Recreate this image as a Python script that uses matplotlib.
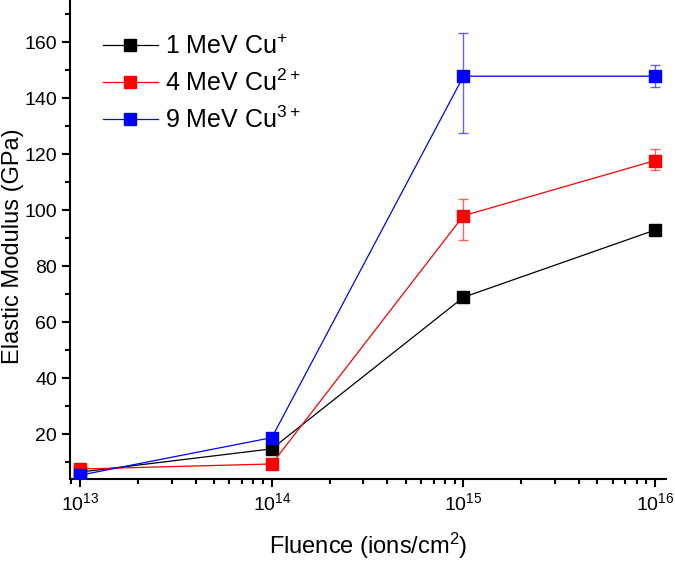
import numpy as np
import matplotlib
matplotlib.use("Agg")
import matplotlib.pyplot as plt
from matplotlib.ticker import LogLocator, MultipleLocator, NullFormatter

plt.rcParams["font.family"] = ["Liberation Sans", "DejaVu Sans"]
plt.rcParams["mathtext.fontset"] = "custom"
plt.rcParams["mathtext.rm"] = "Liberation Sans"
plt.rcParams["mathtext.it"] = "Liberation Sans:italic"

# Data
fluence = [1e13, 1e14, 1e15, 1e16]
labels = ["1 MeV Cu$^{+}$", "4 MeV Cu$^{2+}$", "9 MeV Cu$^{3+}$"]
colors = ["black", "red", "blue"]

mod_1mev = [6.5, 14.8, 68.9, 92.9]
err_1mev_lo = [0, 0, 1.5, 0]
err_1mev_hi = [0, 0, 1.5, 0]

mod_4mev = [7.6, 9.4, 98.0, 117.7]
err_4mev_lo = [0, 0, 8.5, 3.4]
err_4mev_hi = [0, 0, 6.0, 4.0]

mod_9mev = [5.4, 18.8, 147.8, 147.8]
err_9mev_lo = [0, 0, 20.1, 4.0]
err_9mev_hi = [0, 0, 15.3, 4.0]

series = [
    (mod_1mev, err_1mev_lo, err_1mev_hi),
    (mod_4mev, err_4mev_lo, err_4mev_hi),
    (mod_9mev, err_9mev_lo, err_9mev_hi),
]

fig = plt.figure(figsize=(6.75, 5.61), dpi=100)
ax = fig.add_axes([0.104, 0.146, 0.883, 0.854])

for (y, lo, hi), lab, c in zip(series, labels, colors):
    ax.errorbar(fluence, y, yerr=[lo, hi], fmt="none", ecolor=c, elinewidth=1.0,
                capsize=3.6, capthick=1.0, alpha=0.6, zorder=2)
    ax.plot(fluence, y, color=c, lw=0.9, marker="s", markersize=8.5,
            markerfacecolor=c, markeredgecolor=c, label=lab, zorder=3)

ax.set_xscale("log")
ax.set_xlim(10 ** 12.948, 10 ** 16.058)
ax.set_ylim(4, 175)
ax.xaxis.set_major_locator(LogLocator(base=10, numticks=10))
ax.xaxis.set_minor_locator(LogLocator(base=10, subs=np.arange(2, 10), numticks=20))
ax.xaxis.set_minor_formatter(NullFormatter())
ax.yaxis.set_minor_locator(MultipleLocator(10))
ax.set_yticks([20, 40, 60, 80, 100, 120, 140, 160])

for s in ["top", "right"]:
    ax.spines[s].set_visible(False)
for s in ["left", "bottom"]:
    ax.spines[s].set_linewidth(1.5)

ax.tick_params(which="major", direction="out", length=6, width=1.5, labelsize=14)
ax.tick_params(which="minor", direction="out", length=3.5, width=1.5)

ax.set_xlabel("Fluence (ions/cm$^{2}$)", fontsize=17, labelpad=12)
ax.set_ylabel("Elastic Modulus (GPa)", fontsize=17)
ax.yaxis.set_label_coords(-0.077, 0.486)

ax.legend(loc="upper left", bbox_to_anchor=(0.017, 0.975), frameon=False,
          fontsize=18, handlelength=2.2, handletextpad=0.3, labelspacing=0.42)

fig.savefig("out.png", dpi=100)
